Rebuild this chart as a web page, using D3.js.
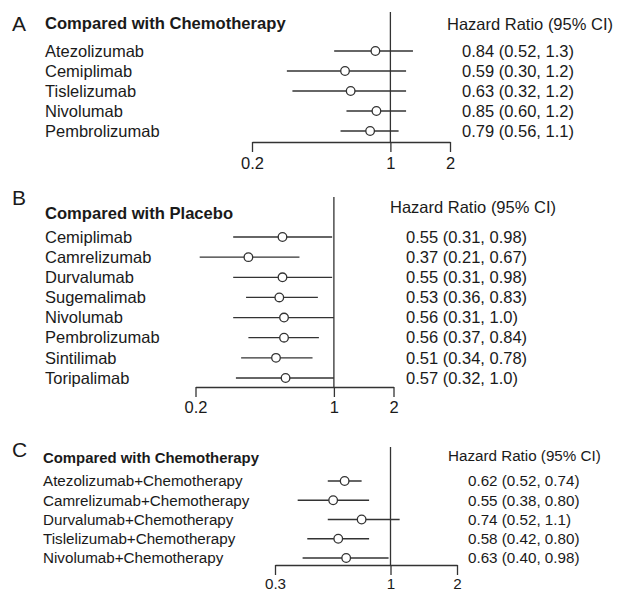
<!DOCTYPE html>
<html>
<head>
<meta charset="utf-8">
<script src="https://cdn.jsdelivr.net/npm/d3@7"></script>
<style>
  html, body { margin: 0; padding: 0; background: #fff; }
  svg { display: block; font-family: "Liberation Sans", Arial, Helvetica, sans-serif; }
</style>
</head>
<body>
<svg id="chart" width="617" height="593"></svg>
<script>
// ---------- DATA ----------
// Panel A: compared with chemotherapy
const aTitle = "Compared with Chemotherapy";
const aDrugs = ["Atezolizumab", "Cemiplimab", "Tislelizumab", "Nivolumab", "Pembrolizumab"];
const aHR    = [0.84, 0.59, 0.63, 0.85, 0.79];
const aLow   = [0.52, 0.30, 0.32, 0.60, 0.56];
const aHigh  = [1.3, 1.2, 1.2, 1.2, 1.1];
const aTicks = [0.2, 1, 2];

// Panel B: compared with placebo
const bTitle = "Compared with Placebo";
const bDrugs = ["Cemiplimab", "Camrelizumab", "Durvalumab", "Sugemalimab", "Nivolumab", "Pembrolizumab", "Sintilimab", "Toripalimab"];
const bHR    = [0.55, 0.37, 0.55, 0.53, 0.56, 0.56, 0.51, 0.57];
const bLow   = [0.31, 0.21, 0.31, 0.36, 0.31, 0.37, 0.34, 0.32];
const bHigh  = [0.98, 0.67, 0.98, 0.83, 1.0, 0.84, 0.78, 1.0];
const bTicks = [0.2, 1, 2];

// Panel C: combination compared with chemotherapy
const cTitle = "Compared with Chemotherapy";
const cDrugs = ["Atezolizumab+Chemotherapy", "Camrelizumab+Chemotherapy", "Durvalumab+Chemotherapy", "Tislelizumab+Chemotherapy", "Nivolumab+Chemotherapy"];
const cHR    = [0.62, 0.55, 0.74, 0.58, 0.63];
const cLow   = [0.52, 0.38, 0.52, 0.42, 0.40];
const cHigh  = [0.74, 0.80, 1.1, 0.80, 0.98];
const cTicks = [0.3, 1, 2];

const headerText = "Hazard Ratio (95% CI)";

// ---------- LAYOUT ----------
const panels = [
  { letter: "A", title: aTitle, drugs: aDrugs, hr: aHR, lo: aLow, hi: aHigh, ticks: aTicks,
    letterY: 31, titleY: 23, headY: 24, lineTop: 12, rowTop: 51, rowBot: 131, axisY: 142,
    xRange: [252, 450], labelX: 45, headX: 447, valX: 462, font: 16.5, titleFont: 16.6, pad: 5 },
  { letter: "B", title: bTitle, drugs: bDrugs, hr: bHR, lo: bLow, hi: bHigh, ticks: bTicks,
    letterY: 205, titleY: 213, headY: 207.5, lineTop: 197, rowTop: 237, rowBot: 378, axisY: 387,
    xRange: [195.5, 393.5], labelX: 45, headX: 390, valX: 406, font: 16.5, titleFont: 16.6, pad: 4 },
  { letter: "C", title: cTitle, drugs: cDrugs, hr: cHR, lo: cLow, hi: cHigh, ticks: cTicks,
    letterY: 457, titleY: 458, headY: 456, lineTop: 447, rowTop: 481, rowBot: 558, axisY: 565,
    xRange: [275, 457], labelX: 43, headX: 448, valX: 468, font: 15.2, titleFont: 14.9, pad: 3 }
];

const ink = "#1a1a1a";
const lineCol = "#333";
const fmt = d3.format(".2r");
const svg = d3.select("#chart");

panels.forEach(p => {
  const g = svg.append("g");
  const x = d3.scaleLog().domain([p.ticks[0], p.ticks[p.ticks.length - 1]]).range(p.xRange);
  const y = d3.scalePoint().domain(p.drugs).range([p.rowTop, p.rowBot]);

  // panel letter
  g.append("text").attr("x", 12).attr("y", p.letterY)
    .attr("font-size", 21).attr("fill", ink).text(p.letter);

  // title
  g.append("text").attr("x", p.labelX).attr("y", p.titleY).attr("dy", "0.35em")
    .attr("font-size", p.titleFont).attr("font-weight", "bold").attr("fill", ink).text(p.title);

  // header
  g.append("text").attr("x", p.headX).attr("y", p.headY).attr("dy", "0.35em")
    .attr("font-size", p.font).attr("fill", ink).text(headerText);

  // reference line at HR = 1
  g.append("line").attr("x1", x(1)).attr("x2", x(1))
    .attr("y1", p.lineTop).attr("y2", p.axisY)
    .attr("stroke", lineCol).attr("stroke-width", 1.3);

  // axis
  const ax = g.append("g").attr("transform", `translate(0,${p.axisY})`)
    .call(d3.axisBottom(x).tickValues(p.ticks).tickFormat(d3.format("")).tickSize(10).tickSizeOuter(0).tickPadding(p.pad));
  ax.select(".domain").attr("stroke", lineCol).attr("stroke-width", 1.3);
  ax.selectAll(".tick line").attr("stroke", lineCol).attr("stroke-width", 1.3);
  ax.selectAll(".tick text").attr("font-size", p.font).attr("fill", ink)
    .attr("font-family", "Liberation Sans, Arial, sans-serif");

  const rows = p.drugs.map((d, i) => ({ name: d, hr: p.hr[i], lo: p.lo[i], hi: p.hi[i] }));

  // row labels
  g.selectAll(".lab").data(rows).join("text")
    .attr("x", p.labelX).attr("y", d => y(d.name)).attr("dy", "0.35em")
    .attr("font-size", p.font).attr("fill", ink).text(d => d.name);

  // CI lines
  g.selectAll(".ci").data(rows).join("line")
    .attr("x1", d => x(d.lo)).attr("x2", d => x(d.hi))
    .attr("y1", d => y(d.name)).attr("y2", d => y(d.name))
    .attr("stroke", lineCol).attr("stroke-width", 1.3);

  // points
  g.selectAll(".pt").data(rows).join("circle")
    .attr("cx", d => x(d.hr)).attr("cy", d => y(d.name)).attr("r", 4.3)
    .attr("fill", "#fff").attr("stroke", lineCol).attr("stroke-width", 1.3);

  // values
  g.selectAll(".val").data(rows).join("text")
    .attr("x", p.valX).attr("y", d => y(d.name)).attr("dy", "0.35em")
    .attr("font-size", p.font).attr("fill", ink)
    .text(d => `${fmt(d.hr)} (${fmt(d.lo)}, ${fmt(d.hi)})`);
});
</script>
</body>
</html>
